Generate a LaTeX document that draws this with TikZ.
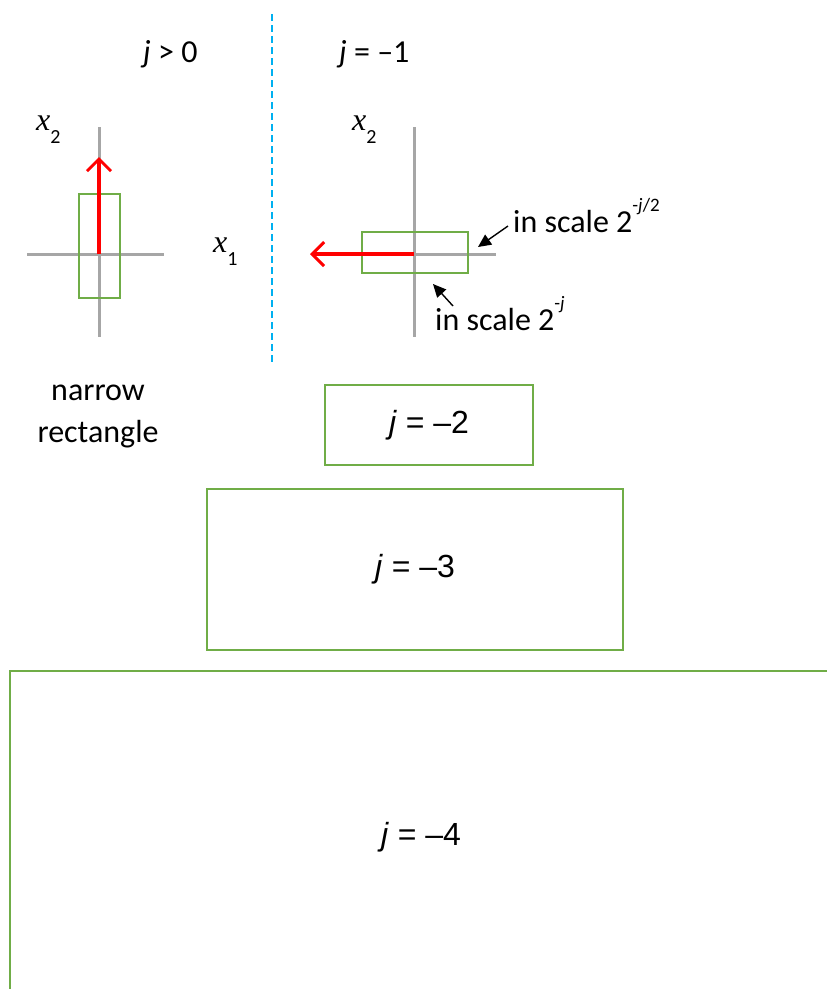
\documentclass[tikz,border=0pt]{standalone}
\usepackage{fontspec}
\setmainfont{Carlito}
\newfontfamily\arialfont{Liberation Sans}
\newfontfamily\timesfont{Liberation Serif}
\usetikzlibrary{arrows.meta}
\definecolor{boxgreen}{HTML}{70AD47}
\definecolor{axisgray}{HTML}{A6A6A6}
\definecolor{splitblue}{HTML}{00B0F0}
\newcommand\axlab[1]{{\timesfont\itshape x}\raisebox{-13pt}{\fontsize{20}{20}\selectfont #1}}
\newcommand\supsc[1]{\raisebox{21pt}{\fontsize{19}{19}\selectfont #1}}

\begin{document}
\begin{tikzpicture}[x=1pt,y=-1pt,
  big/.style={font=\fontsize{32}{42}\selectfont,inner sep=0pt},
  boxtxt/.style={font=\arialfont\fontsize{32}{38}\selectfont},
  scalebox/.style={draw=boxgreen,line width=2pt,inner sep=0pt,boxtxt},
  axis/.style={axisgray,line width=3pt},
  vec/.style={red,line width=4pt,-{Straight Barb[length=12pt,width=24pt,line width=3pt]}},
  pointer/.style={line width=1.4pt,-{Triangle[length=13pt,width=12pt]}}]
\useasboundingbox (0,0) rectangle (827,989);
\clip (0,0) rectangle (827,989);
% headers and the dashed split
\node[big,anchor=base west] (jpos) at (143,62) {\textit{j} > 0};
\node[big,anchor=base west] (jm1) at (339,62) {\textit{j} = –1};
\draw[splitblue,line width=2pt,dash pattern=on 7pt off 4pt] (272,14) -- (272,362);
% left: narrow rectangle, j > 0
\coordinate (o1) at (99,254);
\draw[axis] (99,127) -- (99,337);
\draw[axis] (27,254) -- (164,254);
\node[draw=boxgreen,line width=2pt,minimum width=41pt,minimum height=104pt,inner sep=0pt] (r1) at (99.5,246) {};
\coordinate (tip1) at (99,157);
\draw[vec] (o1) -- (tip1);
\node[big,anchor=base west] (x2a) at (36,130) {\axlab{2}};
\node[big,anchor=base west] (x1a) at (213,252) {\axlab{1}};
\node[big,align=center] (narrow) at (98,416) {narrow\\[0pt]rectangle};
% right: j = -1
\coordinate (o2) at (414,254);
\draw[axis] (414,127) -- (414,337);
\draw[axis] (340,254) -- (496,254);
\node[draw=boxgreen,line width=2pt,minimum width=106pt,minimum height=41pt,inner sep=0pt] (r2) at (415,252.5) {};
\coordinate (tip2) at (310,254);
\draw[vec] (o2) -- (tip2);
\node[big,anchor=base west] (x2b) at (352,130) {\axlab{2}};
\node[big,anchor=base west] (inA) at (513,232) {in scale 2\supsc{-\textit{j}/2}};
\node[big,anchor=base west] (inB) at (435,330) {in scale 2\supsc{-\textit{j}}};
\coordinate (tipA) at (478,247);
\coordinate (tipB) at (433,284);
\draw[pointer] ([xshift=-5pt,yshift=6pt]inA.base west) -- (tipA);
\draw[pointer] ([xshift=18pt,yshift=24pt]inB.base west) -- (tipB);
% growing boxes
\node[scalebox,minimum width=208pt,minimum height=80pt] (jm2) at (429,425) {\textit{j} = –2};
\node[scalebox,minimum width=416pt,minimum height=161pt] (jm3) at (415,569.5) {\textit{j} = –3};
\draw[boxgreen,line width=2pt] (10,671) rectangle (860,1020);
\node[boxtxt] (jm4) at (421,837) {\textit{j} = –4};
\end{tikzpicture}
\end{document}
